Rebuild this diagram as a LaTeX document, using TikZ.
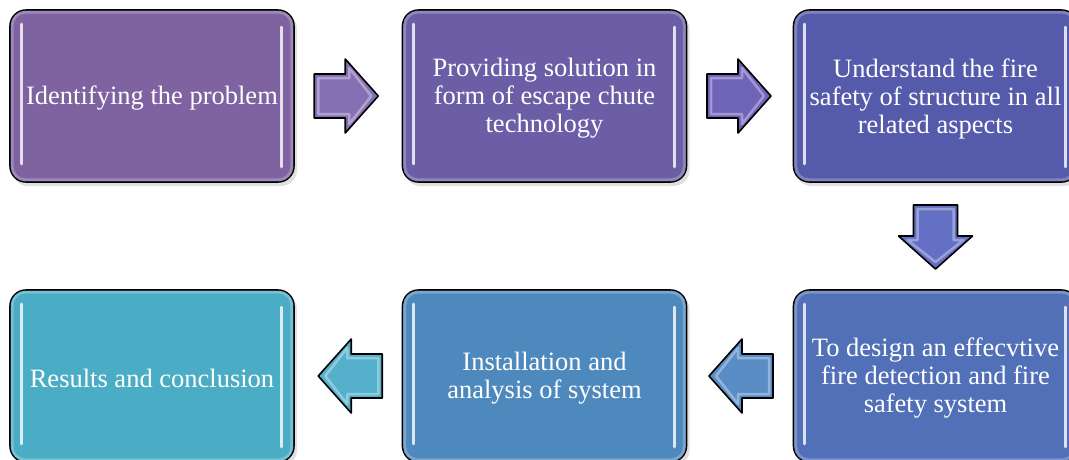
\documentclass[tikz,border=0pt]{standalone}
\usepackage{fontspec}
\setmainfont{Liberation Serif}
\usetikzlibrary{calc}
\definecolor{cA}{HTML}{7F62A0}
\definecolor{cB}{HTML}{6C5EA6}
\definecolor{cC}{HTML}{555AAB}
\definecolor{cD}{HTML}{5270B8}
\definecolor{cE}{HTML}{4E89BE}
\definecolor{cF}{HTML}{4BACC6}
\definecolor{aA}{HTML}{8670B4}
\definecolor{aB}{HTML}{6F64B8}
\definecolor{aC}{HTML}{6470C4}
\definecolor{aD}{HTML}{5A8CC6}
\definecolor{aE}{HTML}{55B0CC}
\begin{document}
\begin{tikzpicture}[x=1pt,y=-1pt,
  box/.style={rounded corners=16pt, minimum width=284pt, minimum height=172pt,
    draw=black, line width=1.6pt, fill=#1, inner sep=0pt},
  txt/.style={text=white, align=center, inner sep=0pt, yshift=-2.5pt,
    font=\fontsize{26.5}{28}\selectfont},
  gloss/.style={draw=white, line width=3pt, line cap=round, opacity=0.8},
  barrow/.pic={
    \path[fill=#1, draw=black, line width=1.6pt, line join=round]
      (-32,-22) -- (-1,-22) -- (-1,-37) -- (32,0) -- (-1,37) -- (-1,22) -- (-32,22) -- cycle;
    \path[draw=white, opacity=0.35, line width=2.5pt, line join=round]
      (-28,-18) -- (3,-18) -- (3,-28) -- (25,0) -- (3,28) -- (3,18) -- (-28,18) -- cycle;
  }
]
\useasboundingbox (0,0) rectangle (1069,459);
\clip (0,0) rectangle (1069,459);

% shadows
\foreach \x/\y in {152/96, 544.5/96, 935.5/96, 152/376, 544.5/376, 935.5/376}
  \fill[black, opacity=0.12, rounded corners=16pt] (\x-140,\y-83) rectangle (\x+145,\y+90);

\node[box=cA] (b1) at (152,96) {};
\node[box=cB] (b2) at (544.5,96) {};
\node[box=cC] (b3) at (935.5,96) {};
\node[box=cD] (b4) at (935.5,376) {};
\node[box=cE] (b5) at (544.5,376) {};
\node[box=cF] (b6) at (152,376) {};

% inner lighter rim and highlight lines
\foreach \n/\c in {b1/cA, b2/cB, b3/cC, b4/cD, b5/cE, b6/cF} {
  \draw[\c!55!white, opacity=0.55, line width=3pt, rounded corners=13pt]
    ($(\n.north west)+(3,3)$) rectangle ($(\n.south east)+(-3,-3)$);
  \draw[gloss] ($(\n.north west)+(12,15)$) -- ($(\n.south west)+(12,-19)$);
  \draw[gloss] ($(\n.north east)+(-13,18)$) -- ($(\n.south east)+(-13,-16)$);
}

% texts
\node[txt] (t1) at (b1.center) {Identifying the problem};
\node[txt] (t2) at (b2.center) {Providing solution in\\form of escape chute\\technology};
\node[txt] (t3) at (b3.center) {Understand the fire\\safety of structure in all\\related aspects};
\node[txt] (t4) at (b4.center) {To design an effecvtive\\fire detection and fire\\safety system};
\node[txt] (t5) at (b5.center) {Installation and\\analysis of system};
\node[txt] (t6) at (b6.center) {Results and conclusion};

% block arrows between the boxes
\coordinate (a1) at ($(b1.east)!0.5!(b2.west)$);
\coordinate (a2) at ($(b2.east)!0.5!(b3.west)$);
\coordinate (a3) at ($(b3.south)!0.5!(b4.north)$);
\coordinate (a4) at ($(b4.west)!0.5!(b5.east)$);
\coordinate (a5) at ($(b5.west)!0.5!(b6.east)$);
\pic at ([xshift=-2pt]a1) {barrow=aA};
\pic at ([xshift=-1pt]a2) {barrow=aB};
\pic[rotate=-90] at ([yshift=-1pt]a3) {barrow=aC};
\pic[rotate=180] at ([xshift=1pt]a4) {barrow=aD};
\pic[rotate=180] at ([xshift=2pt]a5) {barrow=aE};
\end{tikzpicture}
\end{document}
